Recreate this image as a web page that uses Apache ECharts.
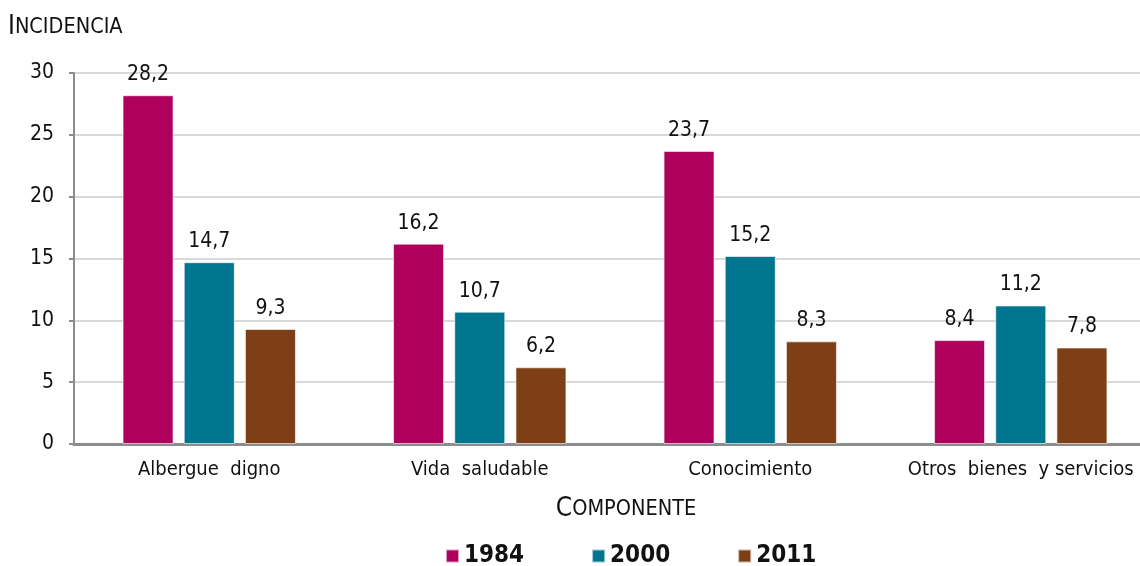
<!DOCTYPE html>
<html>
<head>
<meta charset="utf-8">
<script src="https://cdn.jsdelivr.net/npm/echarts@6/dist/echarts.min.js"></script>
<style>html,body{margin:0;padding:0;background:#fff;overflow:hidden}#c{width:1160px;height:566px}</style>
</head>
<body>
<div id="c"></div>
<script>
const categories = ['Albergue  digno', 'Vida  saludable', 'Conocimiento', 'Otros  bienes  y servicios'];
const seriesNames = ['1984', '2000', '2011'];
const values1984 = [28.2, 16.2, 23.7, 8.4];
const values2000 = [14.7, 10.7, 15.2, 11.2];
const values2011 = [9.3, 6.2, 8.3, 7.8];
const colors = ['#B0005E', '#00758F', '#7F3F16'];
const yTicks = [0, 5, 10, 15, 20, 25, 30];

const FONT = "'Liberation Sans Narrow', 'DejaVu Sans Condensed', sans-serif";
const chart = echarts.init(document.getElementById('c'));
const allValues = [values1984, values2000, values2011];

const scRich = {
  a: { fontFamily: FONT, fontSize: 26, fontWeight: 'normal', color: '#111' },
  b: { fontFamily: FONT, fontSize: 21.5, fontWeight: 'normal', color: '#111' }
};

chart.setOption({
  animation: false,
  textStyle: { fontFamily: FONT },
  title: {
    left: 3, top: 9,
    text: '{a|I}{b|NCIDENCIA}',
    textStyle: { fontWeight: 'normal', rich: scRich }
  },
  grid: { left: 74, right: 4, top: 73, bottom: 122, containLabel: false },
  legend: {
    top: 539, left: 440,
    itemWidth: 13, itemHeight: 13, itemGap: 67,
    icon: 'rect',
    textStyle: { fontFamily: FONT, fontSize: 24, fontWeight: 'bold', color: '#111' },
    data: seriesNames
  },
  xAxis: {
    type: 'category',
    data: categories,
    name: '{a|C}{b|OMPONENTE}',
    nameLocation: 'middle',
    nameGap: 52,
    nameTextStyle: { rich: scRich, padding: [0, 0, 0, 22] },
    axisLine: { lineStyle: { color: '#8c8c8c', width: 3 } },
    axisTick: { show: false },
    axisLabel: { interval: 0, fontFamily: FONT, fontSize: 20, color: '#111', margin: 16 }
  },
  yAxis: {
    type: 'value',
    min: yTicks[0], max: yTicks[yTicks.length - 1], interval: 5,
    axisLine: { show: true, lineStyle: { color: '#8c8c8c', width: 2 } },
    axisTick: { show: true, length: 5, lineStyle: { color: '#8c8c8c', width: 2 } },
    splitLine: { lineStyle: { color: '#d9d9d9', width: 2 } },
    axisLabel: { fontFamily: FONT, fontSize: 21, color: '#111', margin: 20 }
  },
  series: seriesNames.map((n, i) => ({
    name: n,
    type: 'bar',
    data: allValues[i],
    barWidth: 51,
    barGap: '20%',
    itemStyle: { color: colors[i], borderColor: 'rgba(255,255,255,0.6)', borderWidth: 1 },
    label: {
      show: true, position: 'top', distance: 10,
      fontFamily: FONT, fontSize: 21, color: '#111',
      formatter: p => String(p.value).replace('.', ',')
    }
  }))
});
</script>
</body>
</html>
